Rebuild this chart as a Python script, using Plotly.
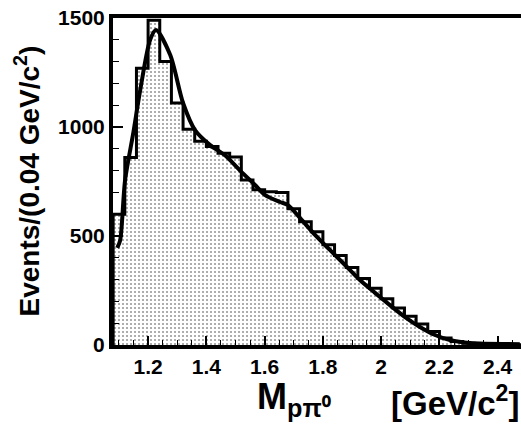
import plotly.graph_objects as go

# Histogram: bin centers (GeV/c^2), bin width 0.04
bin_centers = [1.10, 1.14, 1.18, 1.22, 1.26, 1.30, 1.34, 1.38, 1.42, 1.46,
               1.50, 1.54, 1.58, 1.62, 1.66, 1.70, 1.74, 1.78, 1.82, 1.86,
               1.90, 1.94, 1.98, 2.02, 2.06, 2.10, 2.14, 2.18, 2.22, 2.26,
               2.30, 2.34, 2.38, 2.42, 2.46]
counts = [600, 860, 1270, 1490, 1300, 1110, 990, 935, 910, 880,
          862, 757, 712, 703, 700, 625, 565, 520, 460, 410,
          355, 305, 260, 212, 170, 132, 96, 62, 32, 16,
          8, 5, 3, 2, 1]

# Fit curve points
curve_x = [1.094, 1.104, 1.121, 1.149, 1.173, 1.207, 1.227, 1.276, 1.320, 1.361,
           1.413, 1.464, 1.516, 1.567, 1.602, 1.653, 1.680, 1.722, 1.773, 1.824,
           1.876, 1.927, 1.979, 2.030, 2.082, 2.133, 2.185, 2.236, 2.305, 2.476]
curve_y = [445, 480, 757, 972, 1170, 1400, 1445, 1330, 1110, 986,
           917, 870, 800, 734, 688, 656, 642, 582, 505, 436,
           367, 298, 239, 183, 128, 83, 46, 23, 9, 4]

x_ticks = [1.2, 1.4, 1.6, 1.8, 2.0, 2.2, 2.4]
x_tick_labels = ["1.2", "1.4", "1.6", "1.8", "2", "2.2", "2.4"]
y_ticks = [0, 500, 1000, 1500]
y_tick_labels = ["0", "500", "1000", "1500"]

bw = 0.04
fig = go.Figure()

# step histogram with dotted fill
step_x = [bin_centers[0] - bw / 2] + [c + bw / 2 for c in bin_centers]
step_y = [counts[0]] + counts
fig.add_trace(go.Scatter(
    x=[step_x[0]] + step_x, y=[0] + step_y, mode="lines",
    line=dict(color="black", width=3, shape="vh"),
    fill="tozeroy", fillcolor="white",
    fillpattern=dict(shape=".", size=4, solidity=0.22,
                     fgcolor="#333", bgcolor="white", fillmode="overlay"),
    showlegend=False, hoverinfo="skip"))

fig.add_trace(go.Scatter(
    x=curve_x, y=curve_y, mode="lines",
    line=dict(color="black", width=4, shape="spline", smoothing=0.8),
    showlegend=False, hoverinfo="skip"))

font_family = "Liberation Sans, Arial, sans-serif"
fig.update_layout(
    width=521, height=436,
    margin=dict(l=113, r=0, t=18, b=91),
    paper_bgcolor="white", plot_bgcolor="white",
    xaxis=dict(range=[1.0795, 2.48], tickvals=x_ticks, ticktext=x_tick_labels,
               ticks="inside", ticklen=9, tickwidth=1.5, tickcolor="black",
               minor=dict(dtick=0.05, ticks="inside", ticklen=5, tickcolor="black", tickwidth=1),
               showline=True, linewidth=4, linecolor="black", mirror=True,
               showgrid=False, zeroline=False,
               tickfont=dict(family=font_family, size=21, color="black", weight="bold")),
    yaxis=dict(range=[0, 1500], tickvals=y_ticks, ticktext=y_tick_labels,
               ticks="inside", ticklen=10, tickwidth=1.5, tickcolor="black",
               minor=dict(dtick=100, ticks="inside", ticklen=6, tickcolor="black", tickwidth=1),
               showline=True, linewidth=4, linecolor="black",
               showgrid=False, zeroline=False,
               tickfont=dict(family=font_family, size=21, color="black", weight="bold")),
    annotations=[
        dict(text="Events/(0.04 GeV/c<sup>2</sup>)", textangle=-90,
             xref="paper", yref="paper", x=-(113 - 27) / 408, y=0.5,
             xanchor="center", yanchor="middle", showarrow=False,
             font=dict(family=font_family, size=28, color="black", weight="bold")),
        dict(text="M<sub>pπ⁰</sub>",
             xref="paper", yref="paper", x=(255 - 113) / 408, y=-(424 - 345) / 327,
             xanchor="left", yanchor="bottom", showarrow=False,
             font=dict(family=font_family, size=36, color="black", weight="bold")),
        dict(text="[GeV/c<sup>2</sup>]",
             xref="paper", yref="paper", x=1.0, y=-(424 - 345) / 327,
             xanchor="right", yanchor="bottom", showarrow=False,
             font=dict(family=font_family, size=33, color="black", weight="bold")),
    ],
)

fig.write_html("out.html")
